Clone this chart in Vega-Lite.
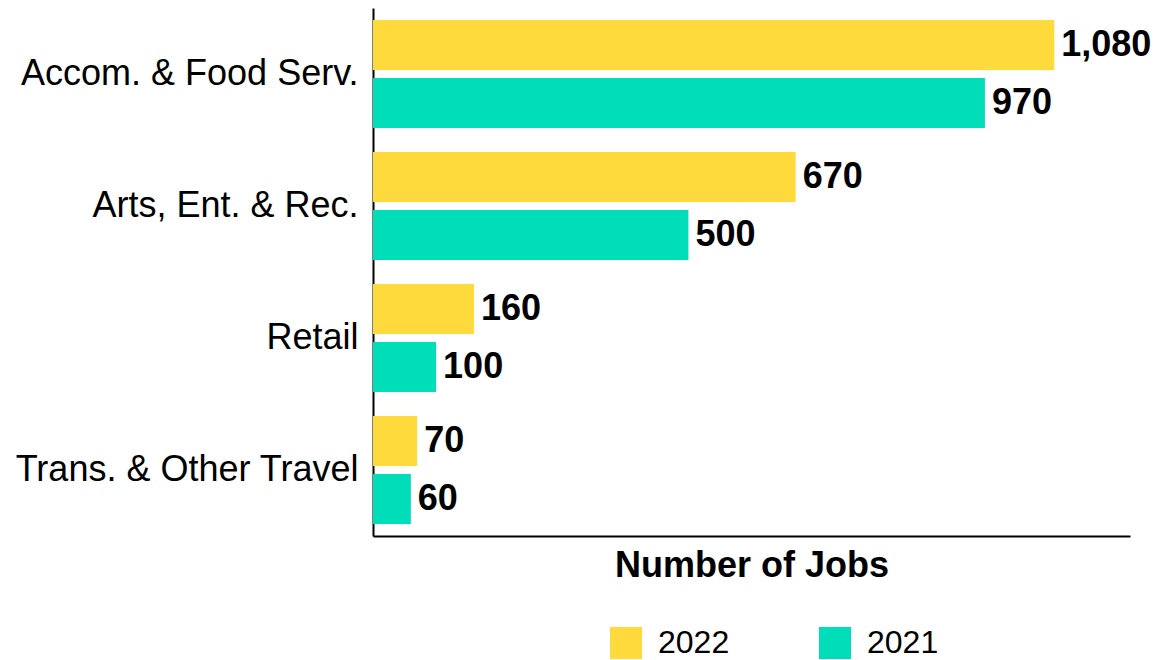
{
  "$schema": "https://vega.github.io/schema/vega-lite/v6.json",
  "width": 757,
  "height": 528,
  "padding": {"left": 14, "top": 8, "right": 0, "bottom": 0},
  "background": "white",
  "config": {"view": {"stroke": null}, "font": "Liberation Sans"},
  "data": {"values": [
    {"sector": "Accom. & Food Serv.", "year": "2022", "jobs": 1080},
    {"sector": "Accom. & Food Serv.", "year": "2021", "jobs": 970},
    {"sector": "Arts, Ent. & Rec.", "year": "2022", "jobs": 670},
    {"sector": "Arts, Ent. & Rec.", "year": "2021", "jobs": 500},
    {"sector": "Retail", "year": "2022", "jobs": 160},
    {"sector": "Retail", "year": "2021", "jobs": 100},
    {"sector": "Trans. & Other Travel", "year": "2022", "jobs": 70},
    {"sector": "Trans. & Other Travel", "year": "2021", "jobs": 60}
  ]},
  "encoding": {
    "y": {"field": "sector", "type": "nominal", "sort": null,
      "scale": {"paddingInner": 0, "paddingOuter": 0},
      "axis": {"title": null, "ticks": false, "domainColor": "black", "domainWidth": 2, "labelFontSize": 36, "labelColor": "black", "labelPadding": 15, "labelLimit": 500}},
    "yOffset": {"field": "year", "type": "nominal", "sort": ["2022", "2021"],
      "scale": {"paddingInner": 0.138, "paddingOuter": 0.207}},
    "x": {"field": "jobs", "type": "quantitative",
      "scale": {"domain": [0, 1200]},
      "axis": {"title": "Number of Jobs", "titleFontSize": 36, "titleFontWeight": "bold", "titleColor": "black", "titlePadding": 12, "labels": false, "ticks": false, "grid": false, "domainColor": "black", "domainWidth": 2}}
  },
  "layer": [
    {"mark": {"type": "bar"},
      "encoding": {"color": {"field": "year", "type": "nominal",
        "scale": {"domain": ["2022", "2021"], "range": ["#FFDA3C", "#00DDB9"]},
        "legend": {"title": null, "orient": "none", "direction": "horizontal", "legendX": 237, "legendY": 619,
          "symbolType": "square", "symbolSize": 1024, "symbolStrokeWidth": 0, "symbolOpacity": 1,
          "labelFontSize": 32, "labelColor": "black", "labelOffset": 16, "columnPadding": 89}}}},
    {"mark": {"type": "text", "align": "left", "baseline": "middle", "dx": 7, "fontSize": 36, "fontWeight": "bold", "color": "black"},
      "encoding": {"text": {"field": "jobs", "type": "quantitative", "format": ","}}}
  ]
}
